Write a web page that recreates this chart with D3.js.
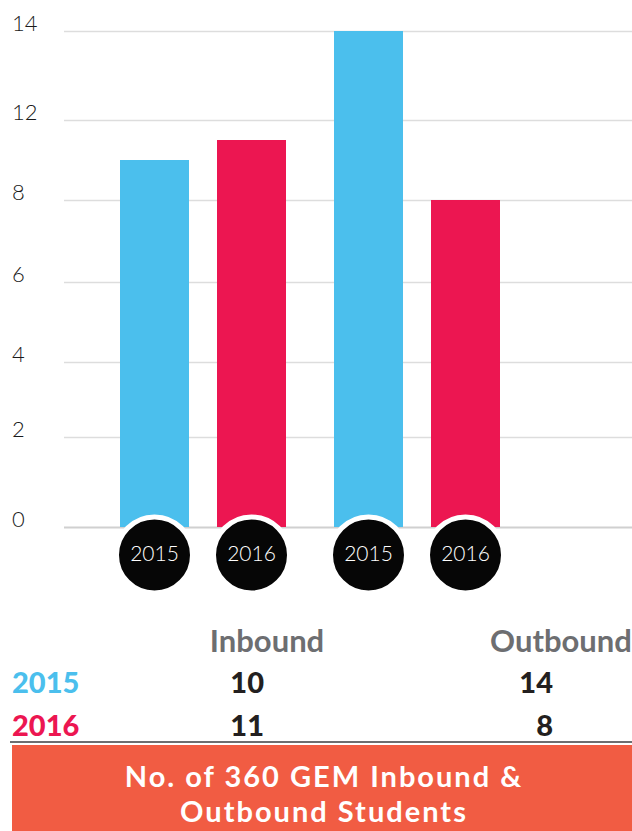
<!DOCTYPE html>
<html>
<head>
<meta charset="utf-8">
<script src="https://cdn.jsdelivr.net/npm/d3@7"></script>
<style>
  html, body { margin: 0; padding: 0; background: #fff; }
  svg { display: block; }
</style>
</head>
<body>
<script>
// chart values
var groups = ['Inbound', 'Outbound'];
var years = ['2015', '2016'];
var inbound = [10, 11];
var outbound = [14, 8];
var tickValues = [0, 2, 4, 6, 8, 12, 14];
var title = ['No. of 360 GEM Inbound &', 'Outbound Students'];

var colors = { '2015': '#4bbfed', '2016': '#ec1651' };
var values = { 'Inbound': inbound, 'Outbound': outbound };

var W = 632, H = 831;
var svg = d3.select('body').append('svg').attr('width', W).attr('height', H);

// the picture's axis is not evenly scaled: ticks are evenly spaced
var y = d3.scaleLinear()
  .domain(tickValues)
  .range([527, 437, 362, 282, 200, 120, 31]);

var x0 = d3.scaleBand().domain(groups).range([120, 500]).paddingInner(48 / 214);
var x1 = d3.scaleBand().domain(years).range([0, x0.bandwidth()]).paddingInner(28 / 97);

// grid + labels
var axis = svg.append('g').attr('transform', 'translate(64,0)')
  .call(d3.axisLeft(y).tickValues(tickValues).tickSize(-(W - 64)).tickPadding(0));
axis.select('.domain').remove();
axis.selectAll('.tick line').attr('stroke', '#dddddd').attr('stroke-width', 1.5);
axis.selectAll('.tick').filter(function (d) { return d === 0; })
  .select('line').attr('stroke', '#d0d0d0').attr('stroke-width', 2);
axis.selectAll('.tick text')
  .attr('x', -52).attr('dy', '-1px')
  .attr('text-anchor', 'start')
  .attr('fill', '#1a1a1a')
  .style('font-family', 'Lato, sans-serif')
  .style('font-weight', 300)
  .style('font-size', '22px');

// bars
var barData = [];
groups.forEach(function (g) {
  years.forEach(function (yr, i) {
    barData.push({ group: g, year: yr, value: values[g][i] });
  });
});

var bars = svg.append('g');
bars.selectAll('rect').data(barData).enter().append('rect')
  .attr('x', function (d) { return x0(d.group) + x1(d.year); })
  .attr('y', function (d) { return y(d.value); })
  .attr('width', x1.bandwidth())
  .attr('height', function (d) { return y(0) - y(d.value); })
  .attr('fill', function (d) { return colors[d.year]; });

// year badges
var badges = svg.append('g');
var badge = badges.selectAll('g').data(barData).enter().append('g')
  .attr('transform', function (d) {
    return 'translate(' + (x0(d.group) + x1(d.year) + x1.bandwidth() / 2) + ',' + (y(0) + 28) + ')';
  });
badge.append('circle').attr('r', 38).attr('fill', '#060606')
  .attr('stroke', '#fff').attr('stroke-width', 5);
badge.append('text').text(function (d) { return d.year; })
  .attr('text-anchor', 'middle').attr('dy', 6)
  .attr('fill', '#fff')
  .style('font-family', 'Lato, sans-serif')
  .style('font-weight', 300)
  .style('font-size', '21px');

// table below
var table = svg.append('g');
var colHead = { 'Inbound': 267, 'Outbound': 561 };
var colNum = { 'Inbound': 264, 'Outbound': 553 };
table.selectAll('text.head').data(groups).enter().append('text')
  .attr('class', 'head')
  .attr('x', function (d) { return colHead[d]; })
  .attr('y', 652)
  .attr('text-anchor', 'middle')
  .attr('fill', '#6d6e71')
  .style('font-family', 'Lato, sans-serif')
  .style('font-weight', 700)
  .style('font-size', '31px')
  .text(function (d) { return d; });

var rowY = [693, 736];
years.forEach(function (yr, i) {
  table.append('text')
    .attr('x', 12).attr('y', rowY[i])
    .attr('fill', colors[yr])
    .style('font-family', 'Lato, sans-serif')
    .style('font-weight', 900)
    .style('font-size', '29px')
    .text(yr);
  groups.forEach(function (g) {
    table.append('text')
      .attr('x', colNum[g]).attr('y', rowY[i])
      .attr('text-anchor', 'end')
      .attr('fill', '#231f20')
      .style('font-family', 'Lato, sans-serif')
      .style('font-weight', 900)
      .style('font-size', '29px')
      .text(values[g][i]);
  });
});

table.append('line')
  .attr('x1', 10).attr('x2', W).attr('y1', 742).attr('y2', 742)
  .attr('stroke', '#6d6e71').attr('stroke-width', 2);

// title block
svg.append('rect')
  .attr('x', 12).attr('y', 745).attr('width', W - 12).attr('height', H - 745)
  .attr('fill', '#f15c43');
svg.append('g').selectAll('text').data(title).enter().append('text')
  .attr('x', 324)
  .attr('y', function (d, i) { return 787 + i * 35; })
  .attr('text-anchor', 'middle')
  .attr('fill', '#fff')
  .style('font-family', 'Lato, sans-serif')
  .style('font-weight', 700)
  .style('font-size', '29px')
  .style('letter-spacing', '2px')
  .text(function (d) { return d; });
</script>
</body>
</html>
